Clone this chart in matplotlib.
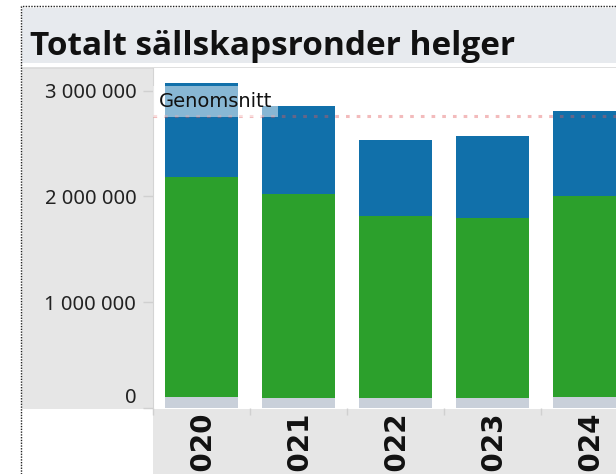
import numpy as np
import matplotlib
matplotlib.use("Agg")
import matplotlib.pyplot as plt
from matplotlib.patches import Rectangle
from matplotlib.lines import Line2D

# data
years = ["2020", "2021", "2022", "2023", "2024"]
grey_part = [107000, 98000, 98000, 98000, 105000]
green_part = [2079000, 1928000, 1717000, 1698000, 1898000]
blue_part = [883000, 831000, 718000, 775000, 804000]
average = 2760000
y_ticks = [0, 1000000, 2000000, 3000000]
y_tick_labels = ["0", "1 000 000", "2 000 000", "3 000 000"]

W, H = 616, 474
fig = plt.figure(figsize=(W / 100, H / 100), dpi=100)
fig.patch.set_facecolor("white")


def fx(px):
    return px / W


def fy(py):
    return 1 - py / H


def frect(x0, y0, x1, y1, color, z=-5):
    fig.patches.append(Rectangle((fx(x0), fy(y1)), fx(x1) - fx(x0), fy(y0) - fy(y1),
                                 transform=fig.transFigure, facecolor=color,
                                 edgecolor="none", zorder=z))


# background panels
frect(22, 8, 616, 63, "#e7eaee")
frect(22, 68, 153, 409, "#e6e6e6")
frect(153, 409, 616, 474, "#e6e6e6")
fig.lines.append(Line2D([fx(22), fx(616)], [fy(67.5), fy(67.5)], transform=fig.transFigure,
                        color="#d9d9d9", lw=1.2, zorder=-4))
# dotted outer border
fig.lines.append(Line2D([fx(21), fx(21), fx(616)], [fy(474), fy(5.5), fy(5.5)],
                        transform=fig.transFigure, color="#222222", lw=1.0,
                        linestyle=(0, (1, 1)), zorder=-4))

fig.text(fx(30), fy(55), "Totalt sällskapsronder helger", fontsize=24,
         fontweight="bold", family="Open Sans", color="#111111", va="baseline", ha="left")

ax = fig.add_axes([fx(153), fy(408), fx(616) - fx(153), fy(68) - fy(408)])
ax.set_facecolor("white")

x = np.arange(len(years))
bw = 0.75
b1 = np.array(grey_part)
b2 = b1 + np.array(green_part)
ax.bar(x, grey_part, width=bw, color="#c9d0da", zorder=2)
ax.bar(x, green_part, width=bw, bottom=b1, color="#2ca02c", zorder=2)
ax.bar(x, blue_part, width=bw, bottom=b2, color="#1170aa", zorder=2)

ax.axhline(average, color="#e15759", alpha=0.4, lw=2.2, linestyle=(0, (1.2, 2.3)), zorder=3)
ax.text(0.013, average + 140000, "Genomsnitt", transform=ax.get_yaxis_transform(),
        fontsize=14, color="#111111", va="center", ha="left", zorder=4,
        bbox=dict(boxstyle="square,pad=0.3", facecolor="white", alpha=0.5, edgecolor="none"))

ax.set_yticks(y_ticks)
ax.set_yticklabels(y_tick_labels, fontsize=14.5, family="Noto Sans", color="#222222")
ax.tick_params(axis="y", length=7, width=1, color="#d0d0d0", pad=5)
ax.get_yticklabels()[0].set_va("bottom")

ax.set_xticks(x)
ax.set_xticklabels(years, rotation=90, fontsize=20, fontweight="bold", color="#111111")
ax.set_xticks(np.arange(-0.5, len(years)), minor=True)
ax.tick_params(axis="x", which="major", length=0, pad=2)
ax.tick_params(axis="x", which="minor", length=5, width=1, color="#d0d0d0")

ax.set_xlim(-0.5, -0.5 + 463 / 97)
ax.set_ylim(0, 340 / 105.8 * 1e6)

for s in ["top", "right", "bottom"]:
    ax.spines[s].set_visible(False)
ax.spines["left"].set_color("#d4d4d4")

fig.savefig("out.png", dpi=100)
